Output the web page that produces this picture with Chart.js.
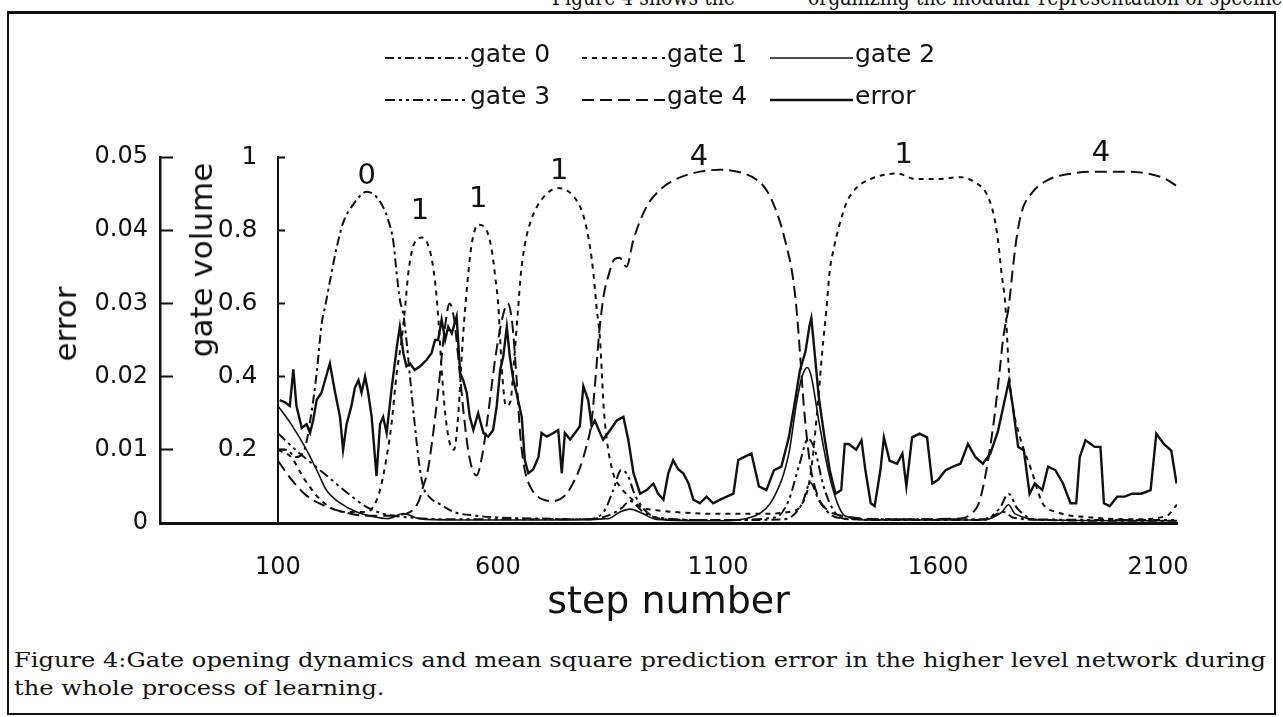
<!DOCTYPE html>
<html>
<head>
<meta charset="utf-8">
<script src="https://cdn.jsdelivr.net/npm/chart.js@4.4.1/dist/chart.umd.min.js"></script>
<style>
  body { margin: 0; background: #fff; }
  #page { position: relative; width: 1283px; height: 717px; overflow: hidden; background: #fff; color: #111; }
  #frame { position: absolute; left: 7px; top: 11px; width: 1265px; height: 699px;
           border: 2px solid #111; border-top-width: 3px; }
  #chart-box { position: absolute; left: 0; top: 0; width: 1283px; height: 640px; }
  .serif { font-family: "DejaVu Serif", serif; white-space: nowrap; position: absolute; transform-origin: 0 0; }
  .ytitle { position: absolute; font-family: "DejaVu Sans", sans-serif; font-size: 31px; color: #111;
            white-space: nowrap; transform: translate(-50%, -50%) rotate(-90deg); }
</style>
</head>
<body>
<div id="page">
  <div id="top1" class="serif" style="top:-15px; left:465px; font-size:22px;">Figure 4 shows the</div>
  <div id="top2" class="serif" style="top:-15px; left:808px; font-size:22px;">organizing the modular representation of specific</div>
  <div id="frame"></div>
  <div id="chart-box"><canvas id="chart"></canvas></div>
  <div class="ytitle" style="left:65px; top:324px;">error</div>
  <div class="ytitle" style="left:201px; top:260px;">gate volume</div>
  <div id="cap1" class="serif" style="left:14px; top:648px; font-size:21px;">Figure 4:Gate opening dynamics and mean square prediction error in the higher level network during</div>
  <div id="cap2" class="serif" style="left:14px; top:676px; font-size:21px;">the whole process of learning.</div>
</div>
<script>
// x axis labels (step number)
const xTickSteps = [100, 600, 1100, 1600, 2100];

// gate volumes, [step, value]
const gate0 = [[100,.20],[120,.20],[140,.18],[160,.20],[176,.30],[188,.41],[200,.55],[207,.59],[218,.66],[233,.75],
  [248,.82],[271,.87],[302,.905],[331,.88],[350,.83],[362,.77],[370,.68],[377,.61],[385,.57],[392,.50],[400,.40],
  [410,.28],[420,.17],[430,.10],[445,.07],[470,.05],[500,.03],[550,.02],[600,.015],[700,.012],[800,.01],[850,.02],
  [880,.04],[900,.06],[930,.03],[980,.01],[1100,.008],[1250,.01],[1290,.05],[1310,.11],[1330,.06],[1370,.015],
  [1500,.008],[1700,.008],[1750,.03],[1770,.015],[1850,.008],[2000,.006],[2143,.006]];

const gate1 = [[100,.20],[130,.18],[160,.12],[200,.06],[250,.03],[300,.03],[317,.045],[332,.09],[347,.18],[358,.27],
  [370,.41],[381,.50],[389,.59],[396,.68],[407,.755],[427,.78],[445,.745],[457,.66],[465,.55],[472,.42],[480,.30],
  [490,.22],[500,.20],[510,.30],[520,.50],[530,.65],[540,.76],[555,.815],[574,.80],[586,.745],[593,.68],[601,.59],
  [605,.50],[610,.40],[618,.32],[628,.33],[637,.45],[646,.59],[652,.68],[661,.76],[676,.83],[700,.885],[736,.915],
  [770,.895],[794,.84],[809,.755],[817,.68],[824,.59],[832,.50],[836,.41],[840,.32],[847,.23],[862,.135],[877,.10],
  [900,.07],[923,.045],[960,.035],[1000,.03],[1100,.025],[1200,.025],[1260,.03],[1290,.05],[1310,.13],[1325,.30],
  [1337,.47],[1346,.58],[1354,.69],[1363,.75],[1375,.81],[1392,.875],[1414,.915],[1447,.94],[1507,.955],[1549,.94],
  [1600,.94],[1651,.945],[1685,.93],[1710,.90],[1727,.84],[1736,.775],[1744,.685],[1753,.595],[1757,.505],[1761,.415],
  [1769,.325],[1786,.235],[1812,.145],[1837,.055],[1870,.03],[1950,.015],[2050,.01],[2120,.02],[2143,.05]];

const gate2 = [[100,.32],[130,.27],[165,.20],[190,.14],[210,.09],[241,.055],[279,.03],[317,.017],[350,.012],[385,.026],
  [420,.012],[500,.008],[700,.008],[850,.012],[877,.03],[900,.038],[925,.028],[960,.01],[1100,.006],[1185,.02],
  [1227,.07],[1261,.19],[1278,.325],[1291,.40],[1303,.425],[1312,.40],[1329,.28],[1350,.145],[1371,.055],[1388,.02],
  [1450,.008],[1700,.008],[1745,.03],[1760,.05],[1775,.025],[1850,.008],[2143,.006]];

const gate3 = [[100,.245],[140,.20],[180,.16],[220,.12],[260,.08],[300,.045],[340,.025],[400,.015],[500,.01],[800,.01],
  [840,.03],[862,.09],[880,.145],[895,.13],[910,.08],[930,.04],[960,.015],[1100,.008],[1230,.015],[1260,.06],
  [1285,.16],[1305,.23],[1320,.20],[1340,.10],[1365,.03],[1400,.01],[1700,.01],[1740,.04],[1760,.08],[1780,.04],
  [1820,.01],[2143,.008]];

const gate4 = [[100,.17],[130,.12],[160,.08],[200,.05],[250,.03],[300,.02],[350,.02],[400,.03],[420,.06],[430,.10],
  [440,.14],[450,.22],[465,.37],[478,.52],[490,.60],[500,.56],[510,.45],[522,.30],[535,.18],[551,.13],[565,.19],
  [580,.32],[595,.46],[610,.56],[622,.60],[632,.55],[642,.40],[650,.25],[660,.15],[673,.10],[700,.065],[725,.06],
  [756,.08],[771,.11],[786,.15],[801,.21],[812,.27],[822,.40],[830,.52],[840,.62],[852,.68],[864,.72],[876,.725],
  [892,.70],[908,.775],[938,.865],[968,.91],[1006,.94],[1059,.96],[1105,.965],[1159,.955],[1185,.94],[1210,.91],
  [1236,.84],[1255,.76],[1269,.68],[1278,.59],[1286,.47],[1295,.32],[1304,.21],[1312,.14],[1325,.08],[1337,.05],
  [1380,.02],[1500,.01],[1650,.012],[1680,.03],[1693,.055],[1710,.145],[1727,.28],[1740,.415],[1748,.505],[1761,.595],
  [1769,.685],[1778,.775],[1790,.85],[1812,.90],[1846,.935],[1905,.955],[1964,.96],[2015,.96],[2075,.955],[2117,.94],
  [2143,.92]];

// mean square prediction error, [step, error]
const errorSeries = [[104,.0168],[116,.0165],[127,.016],[135,.021],[142,.016],[154,.013],[165,.0135],[173,.0123],
  [180,.014],[188,.0168],[199,.0178],[207,.0195],[218,.0218],[230,.0178],[241,.0145],[248,.010],[256,.0135],[267,.016],
  [275,.0185],[283,.0195],[290,.0178],[298,.020],[305,.0178],[313,.0145],[324,.0064],[332,.0135],[339,.0145],[347,.0123],
  [358,.0182],[370,.024],[377,.0268],[385,.0232],[392,.0214],[400,.0218],[411,.0209],[423,.0214],[438,.0223],[449,.0232],
  [457,.025],[464,.025],[472,.0278],[480,.025],[487,.0268],[495,.0259],[506,.0282],[514,.0205],[521,.0195],[529,.0178],
  [536,.0145],[544,.0127],[555,.015],[567,.0123],[578,.0118],[589,.0127],[597,.0159],[605,.0209],[612,.0227],[620,.0268],
  [627,.0227],[635,.0195],[642,.0178],[654,.0145],[661,.0086],[669,.0068],[680,.0073],[692,.009],[699,.0123],[711,.0118],
  [726,.0123],[737,.0127],[745,.0068],[752,.0123],[764,.0114],[775,.0123],[786,.0132],[794,.0187],[805,.0168],[813,.0132],
  [820,.014],[832,.0123],[839,.0114],[855,.0127],[870,.014],[885,.0145],[896,.0114],[908,.0068],[923,.004],[938,.0045],
  [953,.0054],[964,.004],[976,.0032],[987,.0068],[998,.0086],[1010,.0073],[1021,.0068],[1033,.0054],[1044,.0032],
  [1059,.0027],[1074,.0036],[1089,.0027],[1105,.0032],[1120,.0036],[1135,.004],[1146,.0086],[1159,.009],[1176,.0095],
  [1193,.005],[1210,.0045],[1227,.0072],[1244,.0077],[1261,.0117],[1274,.0163],[1286,.0208],[1299,.0235],[1308,.027],
  [1312,.028],[1320,.023],[1329,.0172],[1342,.0117],[1354,.0072],[1367,.004],[1380,.0045],[1388,.0108],[1397,.0108],
  [1414,.010],[1426,.0113],[1435,.0072],[1447,.0027],[1456,.0023],[1469,.0072],[1477,.0117],[1490,.0085],[1507,.0081],
  [1519,.0095],[1528,.005],[1541,.0117],[1558,.0122],[1575,.0117],[1587,.0054],[1600,.0059],[1617,.0072],[1634,.0077],
  [1651,.0081],[1668,.0108],[1685,.009],[1702,.0081],[1719,.0095],[1736,.0125],[1748,.0158],[1761,.0194],[1769,.0163],
  [1782,.0104],[1795,.0099],[1808,.004],[1820,.0054],[1837,.0045],[1850,.0077],[1867,.0072],[1884,.0054],[1901,.0027],
  [1914,.0027],[1922,.009],[1935,.0113],[1956,.0104],[1969,.0104],[1977,.0027],[1990,.0023],[2007,.0036],[2024,.0036],
  [2041,.004],[2062,.004],[2083,.0045],[2096,.0122],[2113,.0108],[2130,.0099],[2142,.0054]];

// which gate is open, written over the curves
const peakLabels = ['0', '1', '1', '1', '4', '1', '4'];
const peakSteps = [302, 423, 555, 739, 1057, 1522, 1970];
const peakLevels = [.948, .85, .883, .96, 1.0, 1.005, 1.01];

const ink = '#111';
const sans = 'DejaVu Sans';

function pts(series) {
    return series.map(p => ({ x: p[0], y: p[1] }));
}

function gateSet(label, series, dash, width) {
    return {
        label: label, data: pts(series), yAxisID: 'yGate',
        borderColor: ink, borderWidth: width, borderDash: dash,
        pointRadius: 0, fill: false, cubicInterpolationMode: 'monotone'
    };
}

// two rows of three, like the original key
const keyPlugin = {
    id: 'key',
    afterDraw(chart) {
        const ctx = chart.ctx;
        const lineX = [385, 582, 770];
        const rowY = [55, 97];
        ctx.save();
        ctx.font = '25px "' + sans + '"';
        ctx.fillStyle = ink;
        ctx.textBaseline = 'middle';
        chart.data.datasets.forEach((ds, i) => {
            const x = lineX[i % 3];
            const y = rowY[Math.floor(i / 3)];
            ctx.strokeStyle = ink;
            ctx.lineWidth = ds.borderWidth;
            ctx.setLineDash(ds.borderDash || []);
            ctx.beginPath();
            ctx.moveTo(x, y + 3);
            ctx.lineTo(x + 83, y + 3);
            ctx.stroke();
            ctx.fillText(ds.label, x + 85, y);
        });
        ctx.restore();
    }
};

const peakPlugin = {
    id: 'peaks',
    afterDatasetsDraw(chart) {
        const ctx = chart.ctx;
        const xs = chart.scales.x, ys = chart.scales.yGate;
        ctx.save();
        ctx.font = '29px "' + sans + '"';
        ctx.fillStyle = ink;
        ctx.textAlign = 'center';
        ctx.textBaseline = 'middle';
        peakLabels.forEach((t, i) => {
            ctx.fillText(t, xs.getPixelForValue(peakSteps[i]), ys.getPixelForValue(peakLevels[i]));
        });
        ctx.restore();
    }
};

new Chart(document.getElementById('chart'), {
    type: 'line',
    data: {
        datasets: [
            gateSet('gate 0', gate0, [9, 4, 3, 4], 2),
            gateSet('gate 1', gate1, [5, 5], 2),
            gateSet('gate 2', gate2, [], 1.6),
            gateSet('gate 3', gate3, [10, 4, 3, 4, 3, 4], 2),
            gateSet('gate 4', gate4, [12, 6], 2),
            {
                label: 'error', data: pts(errorSeries), yAxisID: 'yErr',
                borderColor: ink, borderWidth: 2.4, pointRadius: 0, fill: false, tension: 0
            }
        ]
    },
    options: {
        responsive: true,
        maintainAspectRatio: false,
        animation: false,
        layout: { padding: { top: 157, right: 106, left: 0, bottom: 0 } },
        plugins: { legend: { display: false }, tooltip: { enabled: false } },
        scales: {
            x: {
                type: 'linear', position: 'bottom', min: -168, max: 2143,
                afterBuildTicks: s => { s.ticks = xTickSteps.map(v => ({ value: v })); },
                afterFit: s => { s.height = 117; },
                grid: { display: false },
                border: { display: true, color: ink, width: 3 },
                ticks: { color: ink, font: { family: sans, size: 24 }, padding: 22, maxRotation: 0, autoSkip: false,
                         callback: v => String(v) },
                title: { display: true, text: 'step number', color: ink,
                         font: { family: sans, size: 38 }, padding: { top: 0, bottom: 14 } }
            },
            yErr: {
                axis: 'y', type: 'linear', position: 'left', min: 0, max: 0.05,
                afterFit: s => { s.width = 160; },
                ticks: { stepSize: 0.01, color: ink, font: { family: sans, size: 24 }, padding: 25 },
                grid: { drawOnChartArea: false, drawTicks: true, tickLength: -13, tickWidth: 2, tickColor: ink },
                border: { color: ink, width: 2.5 }
            },
            yGate: {
                axis: 'y', type: 'linear', position: { x: 100 }, min: 0, max: 1,
                ticks: {
                    stepSize: 0.2, color: ink, font: { family: sans, size: 25 },
                    callback: v => v === 0 ? '' : Number(v.toFixed(1)) + '\u2002 '
                },
                grid: { drawOnChartArea: false, drawTicks: true, tickLength: -8, tickWidth: 2, tickColor: ink },
                border: { color: ink, width: 2 }
            }
        }
    },
    plugins: [keyPlugin, peakPlugin]
});

// the scan is wider than the font; stretch each text line to the width it has there
function fitWidth(id, target) {
    const el = document.getElementById(id);
    const k = target / el.getBoundingClientRect().width;
    el.style.transform = 'scaleX(' + k + ')';
    return k;
}
const kTop = fitWidth('top2', 474);
const top1 = document.getElementById('top1');
const w1 = top1.getBoundingClientRect().width;
top1.style.left = (735 - w1 * kTop) + 'px';
top1.style.transform = 'scaleX(' + kTop + ')';
const k = fitWidth('cap1', 1252);
document.getElementById('cap2').style.transform = 'scaleX(' + k + ')';
</script>
</body>
</html>
